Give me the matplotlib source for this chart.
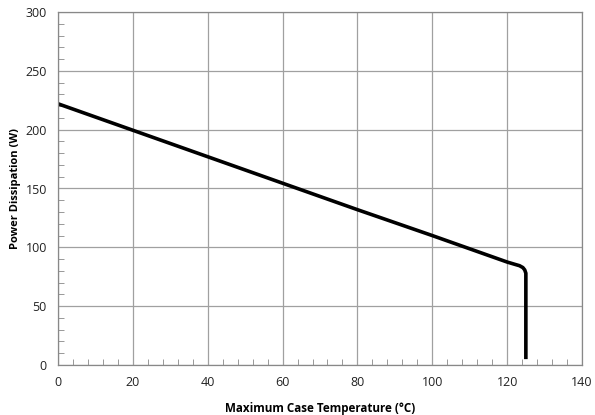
import matplotlib
matplotlib.use("Agg")
import matplotlib.pyplot as plt
from matplotlib.ticker import MultipleLocator

# data
temp_c = [0, 20, 40, 60, 80, 100, 120, 122.0, 123.3, 124.2, 124.7, 125.0, 125.0]
power_w = [222, 199.5, 177, 154.5, 132, 110, 87.5, 85.6, 84.4, 82.8, 80.8, 78, 5]

plt.rcParams["font.family"] = ["Open Sans", "DejaVu Sans"]

fig = plt.figure(figsize=(5.95, 4.15), dpi=100)
ax = fig.add_axes([58 / 595, 50 / 415, 524 / 595, 353 / 415])

ax.plot(temp_c, power_w, color="black", linewidth=2.6, solid_capstyle="butt",
        solid_joinstyle="round")

ax.set_xlim(0, 140)
ax.set_ylim(0, 300)
ax.xaxis.set_major_locator(MultipleLocator(20))
ax.xaxis.set_minor_locator(MultipleLocator(4))
ax.yaxis.set_major_locator(MultipleLocator(50))
ax.yaxis.set_minor_locator(MultipleLocator(10))

ax.grid(which="major", color="#a0a0a0", linewidth=0.9)
ax.set_axisbelow(True)
for s in ax.spines.values():
    s.set_color("#888888")
    s.set_linewidth(0.9)

ax.tick_params(which="major", length=0, labelsize=9, pad=8, colors="#222222")
ax.tick_params(which="minor", direction="in", length=4, color="#888888")
ax.tick_params(axis="x", which="both", top=False)
ax.tick_params(axis="y", which="both", right=False)

ax.set_xlabel("Maximum Case Temperature (°C)", fontsize=8.4, fontweight="bold", labelpad=9)
ax.set_ylabel("Power Dissipation (W)", fontsize=8, fontweight="bold", labelpad=3)

fig.savefig("out.png", dpi=100)
